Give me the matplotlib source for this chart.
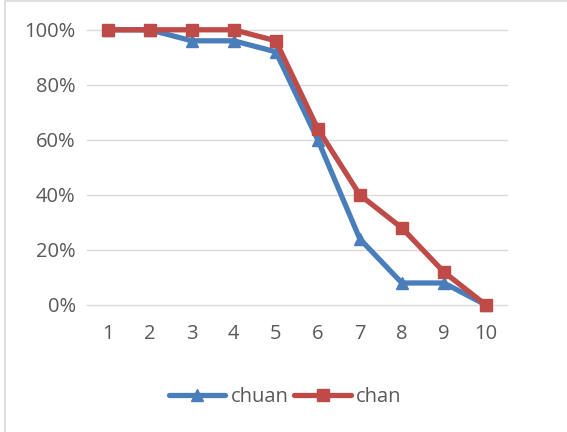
import matplotlib.pyplot as plt
from matplotlib.patches import Rectangle
from matplotlib.ticker import FuncFormatter

plt.rcParams['font.family'] = ['Open Sans', 'DejaVu Sans']

x = [1, 2, 3, 4, 5, 6, 7, 8, 9, 10]
chuan = [1.00, 1.00, 0.96, 0.96, 0.92, 0.60, 0.24, 0.08, 0.08, 0.00]
chan = [1.00, 1.00, 1.00, 1.00, 0.96, 0.64, 0.40, 0.28, 0.12, 0.00]

fig = plt.figure(figsize=(5.67, 4.32), dpi=100)
ax = fig.add_axes([0.153, 0.294, 0.741, 0.637])

# chart border
fig.patches.append(Rectangle((0.009, -0.01), 1.2, 1.007, transform=fig.transFigure,
                             fill=False, edgecolor='#d9d9d9', linewidth=1.2))

ax.plot(x, chuan, color='#4a7ebb', linewidth=3.8, marker='^', markersize=9,
        label='chuan', solid_capstyle='round', solid_joinstyle='round', zorder=3)
ax.plot(x, chan, color='#be4b48', linewidth=3.8, marker='s', markersize=8.5,
        label='chan', solid_capstyle='round', solid_joinstyle='round', zorder=4)

ax.set_xlim(0.5, 10.5)
ax.set_ylim(0, 1.0)
ax.set_yticks([0, 0.2, 0.4, 0.6, 0.8, 1.0])
ax.set_xticks(x)
ax.yaxis.set_major_formatter(FuncFormatter(lambda v, p: '%d%%' % round(v * 100)))
ax.grid(axis='y', color='#d9d9d9', linewidth=1)
ax.set_axisbelow(True)
for s in ax.spines.values():
    s.set_visible(False)
ax.tick_params(length=0, labelsize=14.5, colors='#595959', pad=8)
ax.tick_params(axis='x', pad=14)
for ln in ax.lines + ax.get_ygridlines():
    ln.set_clip_on(False)

leg = fig.legend(loc='center', bbox_to_anchor=(0.503, 0.082), ncol=2, frameon=False,
                 fontsize=14.5, handlelength=2.8, columnspacing=0.3, handletextpad=0.25)
for t in leg.get_texts():
    t.set_color('#595959')

fig.savefig('out.png')
